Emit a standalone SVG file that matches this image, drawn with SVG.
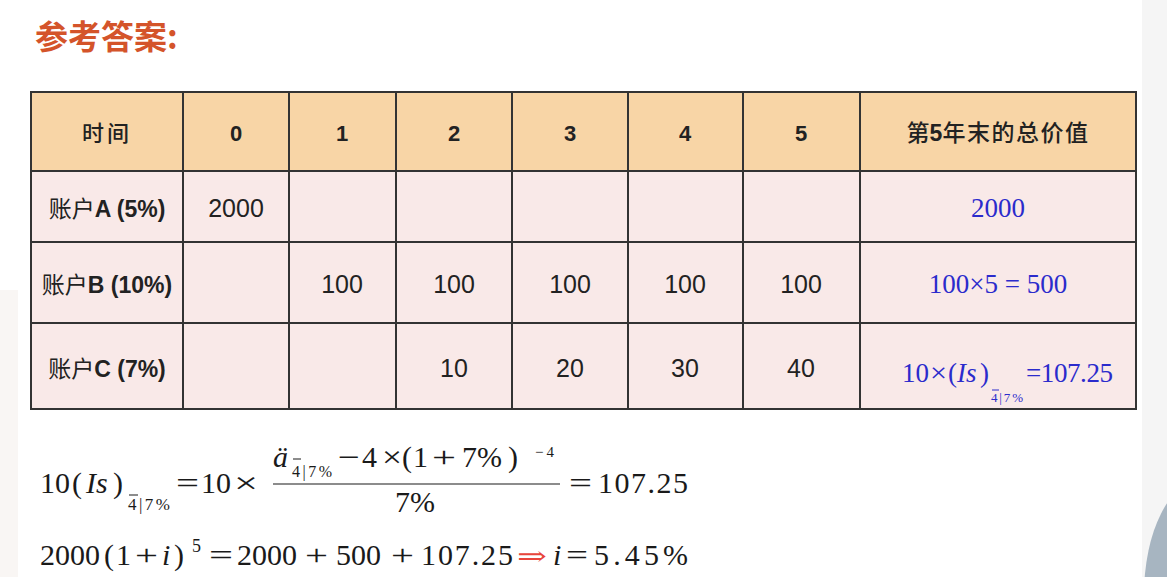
<svg xmlns="http://www.w3.org/2000/svg" width="1167" height="577" viewBox="0 0 1167 577">
<style>
.hdr{fill:#f8d5a6}
.body{fill:#f9e9e8}
.grid{stroke:#333;stroke-width:2;fill:none}
.h{font-family:"Liberation Sans","Noto Sans CJK SC",sans-serif;font-weight:bold;font-size:22px;fill:#222;text-anchor:middle}
.cjk{font-family:"Noto Sans CJK SC",sans-serif;font-weight:normal}
.lab{font-family:"Liberation Sans","Noto Sans CJK SC",sans-serif;font-size:23px;fill:#222;text-anchor:middle;font-weight:bold}
.num{font-family:"Liberation Sans",sans-serif;font-size:25px;fill:#222;text-anchor:middle}
.bl{font-family:"Liberation Serif",serif;font-size:27px;fill:#2b2bcc}
.m{font-family:"Liberation Serif",serif;font-size:30px;fill:#1a1a1a}
.i{font-style:italic}
.bar{stroke:#1a1a1a;stroke-width:1.2}
</style>
<rect width="1167" height="577" fill="#ffffff"/>
<rect x="1142" y="0" width="25" height="577" fill="#f5f5f5"/>
<ellipse cx="1202" cy="595" rx="58" ry="115" fill="#a7b5c1"/>
<rect x="0" y="290" width="18" height="287" fill="#f9f6f4"/>

<g id="title">
<text x="35" y="49" font-family="Noto Sans CJK SC, sans-serif" font-weight="bold" font-size="33" fill="#d4542a">参考答案:</text>
</g>

<g id="table">
<rect class="hdr" x="31" y="92" width="1105" height="79"/>
<rect class="body" x="31" y="171" width="1105" height="238"/>
<g class="grid">
<rect x="31" y="92" width="1105" height="317"/>
<line x1="31" y1="171" x2="1136" y2="171"/>
<line x1="31" y1="242" x2="1136" y2="242"/>
<line x1="31" y1="323" x2="1136" y2="323"/>
<line x1="183" y1="92" x2="183" y2="409"/>
<line x1="289" y1="92" x2="289" y2="409"/>
<line x1="396" y1="92" x2="396" y2="409"/>
<line x1="512" y1="92" x2="512" y2="409"/>
<line x1="628" y1="92" x2="628" y2="409"/>
<line x1="743" y1="92" x2="743" y2="409"/>
<line x1="860" y1="92" x2="860" y2="409"/>
</g>
<g id="header">
<text class="h" x="107" y="141"><tspan class="cjk" style="font-weight:500" letter-spacing="3">时间</tspan></text>
<text class="h" x="236" y="141">0</text>
<text class="h" x="342" y="141">1</text>
<text class="h" x="454" y="141">2</text>
<text class="h" x="570" y="141">3</text>
<text class="h" x="685" y="141">4</text>
<text class="h" x="801" y="141">5</text>
<text class="h" x="998" y="141" style="font-size:23px"><tspan class="cjk" style="font-weight:500">第</tspan>5<tspan class="cjk" style="font-weight:500" letter-spacing="1.5">年末的总价值</tspan></text>
</g>
<g id="rowA">
<text class="lab" x="107" y="217"><tspan class="cjk">账户</tspan>A (5%)</text>
<text class="num" x="236" y="217">2000</text>
<text class="bl" x="998" y="217" text-anchor="middle">2000</text>
</g>
<g id="rowB">
<text class="lab" x="107" y="293"><tspan class="cjk">账户</tspan>B (10%)</text>
<text class="num" x="342" y="293">100</text>
<text class="num" x="454" y="293">100</text>
<text class="num" x="570" y="293">100</text>
<text class="num" x="685" y="293">100</text>
<text class="num" x="801" y="293">100</text>
<text class="bl" x="998" y="293" text-anchor="middle">100×5 = 500</text>
</g>
<g id="rowC">
<text class="lab" x="107" y="377"><tspan class="cjk">账户</tspan>C (7%)</text>
<text class="num" x="454" y="377">10</text>
<text class="num" x="570" y="377">20</text>
<text class="num" x="685" y="377">30</text>
<text class="num" x="801" y="377">40</text>
<text class="bl" x="902" y="382">10</text>
<text class="bl" x="930" y="382" textLength="17" lengthAdjust="spacingAndGlyphs">×</text>
<text class="bl" x="948" y="382">(</text>
<text class="bl i" x="957" y="382">Is</text>
<text class="bl" x="980" y="382">)</text>
<line x1="992" y1="390" x2="999" y2="390" stroke="#2b2bcc" stroke-width="1"/>
<text class="bl" x="991" y="402" style="font-size:13px" textLength="32">4|7%</text>
<text class="bl" x="1026" y="382" textLength="87">=107.25</text>
</g>
</g>

<g id="formula1">
<text class="m" x="40" y="493">10</text>
<text class="m" x="72" y="493">(</text>
<text class="m i" x="86" y="493">Is</text>
<text class="m" x="113" y="493">)</text>
<line class="bar" x1="129" y1="495" x2="138" y2="495" style="stroke-width:1"/>
<text class="m" x="128" y="510" style="font-size:17px" textLength="42">4|7%</text>
<text class="m" x="176" y="493" textLength="23" lengthAdjust="spacingAndGlyphs">=</text>
<text class="m" x="201" y="493">10</text>
<text class="m" x="234" y="493" textLength="24" lengthAdjust="spacingAndGlyphs">×</text>
<line class="bar" x1="273" y1="484" x2="560" y2="484"/>
<text class="m i" x="273" y="467">ä</text>
<line class="bar" x1="293" y1="459" x2="301" y2="459" style="stroke-width:1"/>
<text class="m" x="292" y="477" style="font-size:16px" textLength="40">4|7%</text>
<text class="m" x="338" y="467" textLength="22" lengthAdjust="spacingAndGlyphs">−</text>
<text class="m" x="362" y="467">4</text>
<text class="m" x="382" y="467" textLength="20" lengthAdjust="spacingAndGlyphs">×</text>
<text class="m" x="402" y="467">(</text>
<text class="m" x="413" y="467">1</text>
<text class="m" x="432" y="467" textLength="24" lengthAdjust="spacingAndGlyphs">+</text>
<text class="m" x="462" y="467">7%</text>
<text class="m" x="508" y="467">)</text>
<text class="m" x="535" y="457" style="font-size:15px" textLength="19">−4</text>
<text class="m" x="395" y="512">7%</text>
<text class="m" x="569" y="493" textLength="23" lengthAdjust="spacingAndGlyphs">=</text>
<text class="m" x="598" y="493" textLength="90">107.25</text>
</g>

<g id="formula2">
<text class="m" x="40" y="565">2000</text>
<text class="m" x="104" y="565">(</text>
<text class="m" x="116" y="565">1</text>
<text class="m" x="135" y="565" textLength="23" lengthAdjust="spacingAndGlyphs">+</text>
<text class="m i" x="162" y="565">i</text>
<text class="m" x="174" y="565">)</text>
<text class="m" x="192" y="552" style="font-size:18px">5</text>
<text class="m" x="209" y="565" textLength="24" lengthAdjust="spacingAndGlyphs">=</text>
<text class="m" x="237" y="565">2000</text>
<text class="m" x="305" y="565" textLength="23" lengthAdjust="spacingAndGlyphs">+</text>
<text class="m" x="336" y="565">500</text>
<text class="m" x="391" y="565" textLength="23" lengthAdjust="spacingAndGlyphs">+</text>
<text class="m" x="421" y="565" textLength="92">107.25</text>
<text x="517" y="565" font-family="DejaVu Serif, serif" font-size="26" fill="#e8453c" textLength="30" lengthAdjust="spacingAndGlyphs">⇒</text>
<text class="m i" x="553" y="565" fill="#3d8fe6">i</text>
<text class="m" x="566" y="565" fill="#3d8fe6" textLength="22" lengthAdjust="spacingAndGlyphs">=</text>
<text class="m" x="594" y="565" fill="#3d8fe6" textLength="94">5.45%</text>
</g>
</svg>
